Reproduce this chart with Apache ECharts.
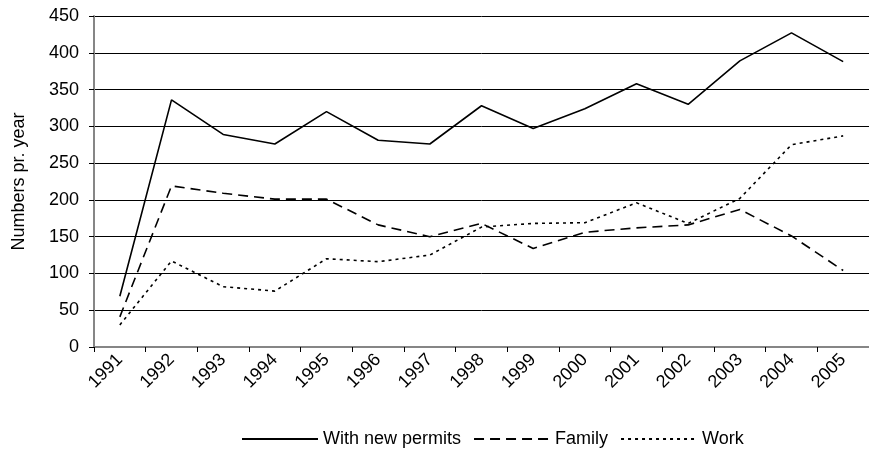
<!DOCTYPE html>
<html lang="en">
<head>
    <meta charset="UTF-8">
    <title>Numbers pr. year</title>
    <script src="https://cdn.jsdelivr.net/npm/echarts@6/dist/echarts.min.js"></script>
    <style>
        html, body { margin: 0; padding: 0; background: #fff; }
    </style>
</head>
<body>
<div id="main" style="width: 869px;height:461px;"></div>

<script>
    var years = ['1991', '1992', '1993', '1994', '1995', '1996', '1997', '1998',
        '1999', '2000', '2001', '2002', '2003', '2004', '2005'];
    var newPermits = [69, 336, 289, 276, 320, 281, 276, 328, 297, 324, 358, 330, 389, 427, 388];
    var family = [41, 219, 209, 201, 201, 166, 150, 168, 134, 156, 162, 166, 187, 151, 104];
    var work = [30, 117, 82, 76, 120, 116, 125, 163, 168, 169, 196, 168, 202, 275, 287];
    var yTicks = [0, 50, 100, 150, 200, 250, 300, 350, 400, 450];

    var font = 'Liberation Sans, Arial, sans-serif';
    var myChart = echarts.init(document.getElementById('main'));

    var option = {
        animation: false,
        backgroundColor: '#fff',
        textStyle: { fontFamily: font, color: '#000' },
        grid: {
            left: 94,
            top: 16,
            width: 787,
            height: 331
        },
        legend: {
            bottom: 8,
            left: 236,
            itemWidth: 76,
            itemHeight: 4,
            itemGap: 12,
            itemStyle: { opacity: 0 },
            textStyle: { fontFamily: font, fontSize: 18, color: '#000' },
            data: ['With new permits', 'Family', 'Work']
        },
        xAxis: {
            type: 'category',
            data: years,
            boundaryGap: true,
            axisLine: { lineStyle: { color: '#868686', width: 2 } },
            axisTick: { show: true, length: 5, lineStyle: { color: '#000' } },
            axisLabel: {
                rotate: 45,
                margin: 10,
                fontSize: 18,
                color: '#000',
                fontFamily: font
            },
            splitLine: { show: false }
        },
        yAxis: {
            type: 'value',
            min: yTicks[0],
            max: yTicks[yTicks.length - 1],
            interval: 50,
            name: 'Numbers pr. year',
            nameLocation: 'middle',
            nameGap: 66,
            nameTextStyle: { fontSize: 18, color: '#000', fontFamily: font },
            axisLine: { show: true, lineStyle: { color: '#868686', width: 2 } },
            axisTick: { show: true, length: 5, lineStyle: { color: '#000' } },
            axisLabel: { fontSize: 18, color: '#000', margin: 15, fontFamily: font },
            splitLine: { show: true, lineStyle: { color: '#000', width: 1 } }
        },
        series: [
            {
                name: 'With new permits',
                type: 'line',
                data: newPermits,
                symbol: 'none',
                lineStyle: { color: '#000', width: 1.6, type: 'solid' },
                itemStyle: { color: '#000' }
            },
            {
                name: 'Family',
                type: 'line',
                data: family,
                symbol: 'none',
                lineStyle: { color: '#000', width: 1.6, type: [10, 6] },
                itemStyle: { color: '#000' }
            },
            {
                name: 'Work',
                type: 'line',
                data: work,
                symbol: 'none',
                lineStyle: { color: '#000', width: 1.6, type: [3, 4] },
                itemStyle: { color: '#000' }
            }
        ]
    };

    myChart.setOption(option);
</script>

</body>
</html>
